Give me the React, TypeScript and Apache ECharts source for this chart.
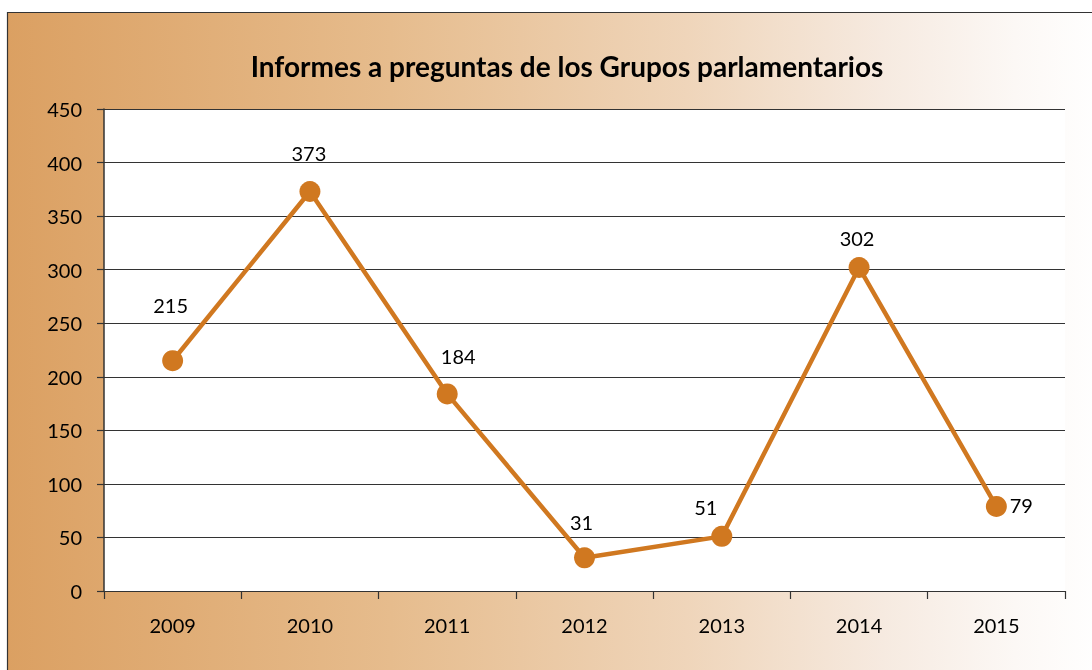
import React, { useEffect, useRef } from "react";
import * as echarts from "echarts";

const titleText = "Informes a preguntas de los Grupos parlamentarios";
const years = ["2009", "2010", "2011", "2012", "2013", "2014", "2015"];
const values = [215, 373, 184, 31, 51, 302, 79];
// label offsets relative to the point (px)
const labelOffsets: [number, number][] = [
  [-2, -56],
  [-1, -38],
  [11, -38],
  [-3, -36],
  [-16, -29],
  [-2, -30],
  [25, -1],
];

const FONT = "Lato, 'Open Sans', sans-serif";
const LINE_COLOR = "#D07820";

export default function App() {
  const ref = useRef<HTMLDivElement>(null);
  useEffect(() => {
    if (!ref.current) return;
    const chart = echarts.init(ref.current, null, { renderer: "svg" });
    chart.setOption({
      animation: false,
      textStyle: { fontFamily: FONT },
      graphic: [
        {
          type: "rect",
          z: -10,
          shape: { x: 7.5, y: 12.5, width: 1095, height: 670 },
          style: {
            stroke: "#333333",
            lineWidth: 1.2,
            fill: new echarts.graphic.LinearGradient(0, 0, 1, 0, [
              { offset: 0, color: "#DBA062" },
              { offset: 0.35, color: "#E6BC8D" },
              { offset: 0.62, color: "#EFD5BA" },
              { offset: 0.8, color: "#F6EAE0" },
              { offset: 0.92, color: "#FCF8F5" },
              { offset: 1, color: "#FFFFFF" },
            ]),
          },
          silent: true,
        },
      ],
      title: {
        text: titleText,
        left: 562,
        textAlign: "center",
        top: 47,
        textStyle: {
          fontFamily: FONT,
          fontWeight: "bold",
          fontSize: 28,
          color: "#000",
        },
      },
      grid: {
        left: 104,
        top: 109,
        width: 961,
        height: 482,
        show: true,
        backgroundColor: "#FFFFFF",
        borderWidth: 0,
      },
      xAxis: {
        type: "category",
        data: years,
        boundaryGap: true,
        axisLine: { show: true, lineStyle: { color: "#333", width: 1.2 } },
        axisTick: { show: true, length: 8, lineStyle: { color: "#333", width: 1.2 } },
        axisLabel: { color: "#000", fontSize: 20, margin: 24, fontFamily: FONT },
      },
      yAxis: {
        type: "value",
        min: 0,
        max: 450,
        interval: 50,
        axisLine: { show: true, lineStyle: { color: "#333", width: 1.5 } },
        axisTick: { show: true, length: 7, lineStyle: { color: "#333", width: 1.2 } },
        axisLabel: { color: "#000", fontSize: 20, margin: 22, fontFamily: FONT },
        splitLine: { show: true, lineStyle: { color: "#333", width: 1.2 } },
      },
      series: [
        {
          type: "line",
          data: values.map((v, i) => ({
            value: v,
            label: {
              show: true,
              position: "inside",
              offset: labelOffsets[i],
            },
          })),
          symbol: "circle",
          symbolSize: 21,
          lineStyle: { color: LINE_COLOR, width: 4.5 },
          itemStyle: { color: LINE_COLOR },
          label: {
            show: true,
            color: "#000",
            fontSize: 20,
            fontFamily: FONT,
            align: "center",
            verticalAlign: "middle",
          },
        },
      ],
    });
    return () => chart.dispose();
  }, []);
  return (
    <div
      ref={ref}
      style={{ position: "fixed", left: 0, top: 0, width: 1092, height: 670 }}
    />
  );
}
